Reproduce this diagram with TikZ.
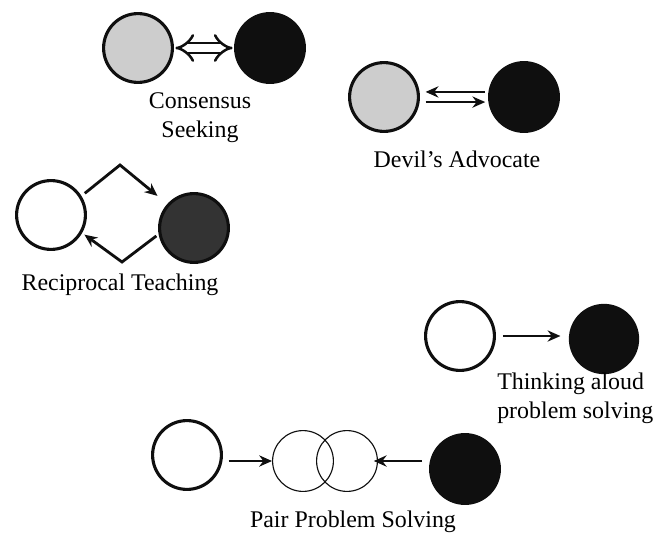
\documentclass[tikz,border=0pt]{standalone}
\usepackage{fontspec}
\setmainfont{Liberation Serif}
\usepackage{xcolor}
\definecolor{stipple}{RGB}{205,205,205}
\definecolor{ink}{RGB}{15,15,15}
\usepackage{tikz}
\usetikzlibrary{arrows.meta,positioning}
\tikzset{
  person/.style={circle,draw=ink,line width=2.2pt,minimum size=1.72cm,inner sep=0pt},
  light/.style={person,fill=stipple},
  open/.style={person,fill=white},
  dark/.style={person,fill=ink},
  pairbox/.style={circle,draw=ink,line width=0.8pt,minimum size=1.52cm,inner sep=0pt},
  flow/.style={-{Stealth[length=3.2mm,width=2.8mm]},draw=ink,line width=2pt},
  caption/.style={font=\fontsize{17}{20.5}\selectfont,align=center,inner sep=0pt},
}

\begin{document}
\begin{tikzpicture}[x=0.025cm,y=-0.025cm]
\path[use as bounding box] (0,0) rectangle (662,538);

% Consensus seeking
\node[light] (cs1) at (138,48) {};
\node[dark] (cs2) at (270,48) {};
\draw[draw=ink,line width=1.8pt,double distance=5pt,{Implies[length=3.5mm,width=7mm]}-{Implies[length=3.5mm,width=7mm]},shorten <=1pt,shorten >=1pt] (cs1) -- (cs2);
\node[caption] (csl) at (200,118) {Consensus\\Seeking};

% Devil's advocate
\node[light] (da1) at (384,97) {};
\node[dark] (da2) at (524,97) {};
\draw[flow,shorten <=2pt,shorten >=4pt] ([yshift=3.6pt]da2.west) -- ([yshift=3.6pt]da1.east);
\draw[flow,shorten <=4pt,shorten >=2pt] ([yshift=-3.6pt]da1.east) -- ([yshift=-3.6pt]da2.west);
\node[caption] (dal) at (457,159) {Devil's Advocate};

% Reciprocal teaching
\node[open] (rt1) at (51,215) {};
\node[dark,fill=ink!85] (rt2) at (194,228) {};
\coordinate (rttop) at (120,165);
\coordinate (rtbot) at (122,262);
\draw[flow,shorten <=3pt,shorten >=9pt] (rt1.32) -- (rttop) -- (rt2.138);
\draw[flow,shorten <=2pt,shorten >=2pt] (rt2.190) -- (rtbot) -- (rt1.-30);
\node[caption] (rtl) at (120,285) {Reciprocal Teaching};

% Thinking aloud problem solving
\node[open] (ta1) at (460,336) {};
\node[dark,minimum size=1.68cm] (ta2) at (604,339) {};
\draw[flow,shorten <=5pt,shorten >=6pt] (ta1.east) -- (ta2.west |- ta1.east);
\node[caption,align=left,anchor=west] (tal) at (497,398) {Thinking aloud\\problem solving};

% Pair problem solving
\node[open] (pp1) at (187,455) {};
\node[pairbox] (ov1) at (303,461) {};
\node[pairbox] (ov2) at (347,461) {};
\node[dark] (pp2) at (465,469) {};
\draw[flow,line width=1.5pt,shorten <=4pt] (pp1.east |- ov1.west) -- (ov1.west);
\draw[flow,line width=1.5pt,shorten <=5pt,shorten >=-3pt] (pp2.west |- ov2.east) -- (ov2.east);
\node[caption] (ppl) at (353,522) {Pair Problem Solving};
\end{tikzpicture}
\end{document}
